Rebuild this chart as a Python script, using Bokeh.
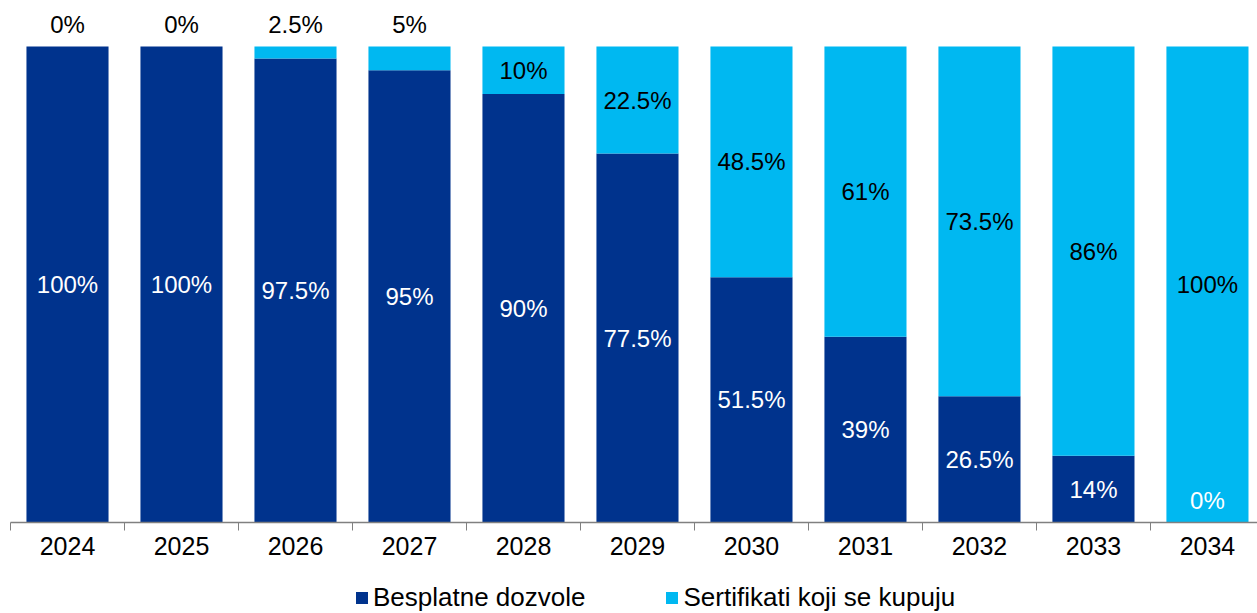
from bokeh.plotting import figure
from bokeh.models import ColumnDataSource, Range1d, FixedTicker, Legend, LegendItem
from bokeh.layouts import column
from bokeh.core.properties import value
from bokeh.embed import file_html
from bokeh.resources import INLINE

years = ["2024", "2025", "2026", "2027", "2028", "2029", "2030", "2031", "2032", "2033", "2034"]
besplatne = [100, 100, 97.5, 95, 90, 77.5, 51.5, 39, 26.5, 14, 0]
sertifikati = [0, 0, 2.5, 5, 10, 22.5, 48.5, 61, 73.5, 86, 100]
series_names = ["Besplatne dozvole", "Sertifikati koji se kupuju"]

DARK = "#00338D"
LIGHT = "#00B8F1"
FONT = "Liberation Sans"

def fmt(v):
    return (f"{v:g}") + "%"

xs = list(range(len(years)))
top_light = [b + s for b, s in zip(besplatne, sertifikati)]

src = ColumnDataSource(dict(
    x=xs, dark=besplatne, light_bottom=besplatne, light_top=top_light,
))

p = figure(width=1257, height=575, output_backend="svg", toolbar_location=None,
           x_range=Range1d(-0.5, 10.439), y_range=Range1d(0, 107.98),
           min_border_left=10, min_border_right=0, min_border_top=8, min_border_bottom=53)

r1 = p.vbar(x="x", top="dark", bottom=0, width=0.72, source=src, fill_color=DARK, line_color=None)
r2 = p.vbar(x="x", top="light_top", bottom="light_bottom", width=0.72, source=src,
            fill_color=LIGHT, line_color=None)

# dark labels (white)
dy, doff = [], []
for b in besplatne:
    if b > 0:
        dy.append(b / 2); doff.append(0)
    else:
        dy.append(0); doff.append(-22)
p.text(x=xs, y=dy, text=[fmt(b) for b in besplatne], y_offset=doff,
       text_align="center", text_baseline="middle", text_color="white",
       text_font=value(FONT), text_font_size="24px")

# light labels (black)
ly, loff = [], []
for b, s in zip(besplatne, sertifikati):
    if s >= 10:
        ly.append(b + s / 2); loff.append(0)
    else:
        ly.append(b + s); loff.append(-22)
p.text(x=xs, y=ly, text=[fmt(s) for s in sertifikati], y_offset=loff,
       text_align="center", text_baseline="middle", text_color="black",
       text_font=value(FONT), text_font_size="24px")

p.yaxis.visible = False
p.xgrid.visible = False
p.ygrid.visible = False
p.outline_line_color = None

ax = p.xaxis[0]
ax.ticker = FixedTicker(ticks=xs, minor_ticks=[i - 0.5 for i in range(len(years) + 1)])
ax.major_label_overrides = {i: y for i, y in enumerate(years)}
ax.major_tick_out = 0
ax.major_tick_in = 0
ax.minor_tick_out = 8
ax.minor_tick_in = 0
ax.minor_tick_line_color = "#808080"
ax.axis_line_color = "#808080"
ax.axis_line_width = 1.5
ax.major_label_text_font = FONT
ax.major_label_text_font_size = "25px"
ax.major_label_text_color = "black"
ax.major_label_standoff = 6

# legend strip below the chart (same series, drawn outside its view)
lf = figure(width=1257, height=38, output_backend="svg", toolbar_location=None,
            x_range=Range1d(-0.5, 10.5), y_range=Range1d(150, 151),
            min_border_left=0, min_border_right=0, min_border_top=0, min_border_bottom=0)
lr1 = lf.vbar(x="x", top="dark", bottom=0, width=0.72, source=src, fill_color=DARK, line_color=None)
lr2 = lf.vbar(x="x", top="light_top", bottom="light_bottom", width=0.72, source=src,
              fill_color=LIGHT, line_color=None)
lf.axis.visible = False
lf.grid.visible = False
lf.outline_line_color = None

legend = Legend(items=[LegendItem(label=series_names[0], renderers=[lr1]),
                       LegendItem(label=series_names[1], renderers=[lr2])],
                orientation="horizontal", location=(344, 0),
                border_line_color=None, background_fill_alpha=0,
                glyph_width=15, glyph_height=15, label_standoff=4, spacing=79,
                padding=0, margin=0, label_text_color="black",
                label_text_font=FONT, label_text_font_size="26px")
lf.add_layout(legend, "center")

layout = column(p, lf, spacing=0)
open("out.html", "w").write(file_html(layout, INLINE))
